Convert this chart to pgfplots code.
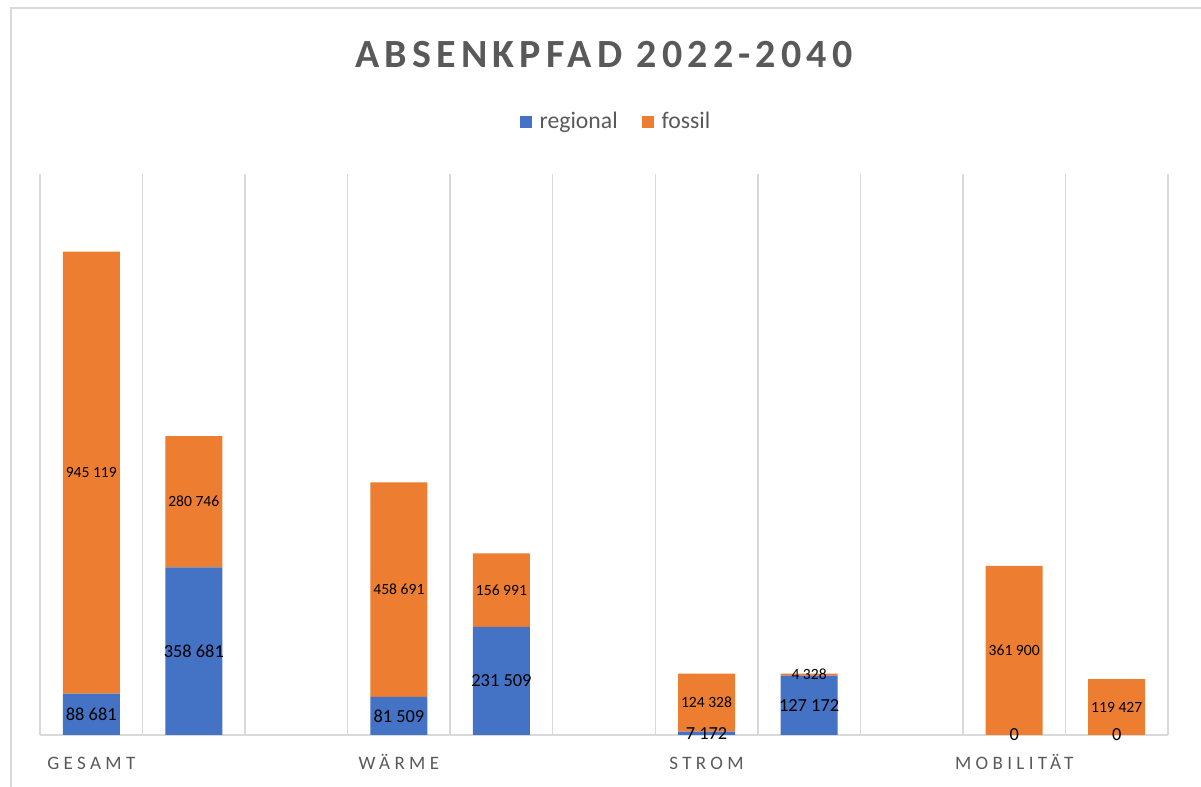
\documentclass[border=0pt]{standalone}
\usepackage{pgfplots}
\usepackage{pgfplotstable}
\pgfplotsset{compat=1.18}
\usepackage{fontspec}
\setmainfont{Carlito}
\newfontfamily\titlefont[LetterSpace=13]{Carlito}
\newfontfamily\catfont[LetterSpace=23]{Carlito}
\definecolor{cblue}{HTML}{4472C4}
\definecolor{corange}{HTML}{ED7D31}
\definecolor{ctext}{HTML}{595959}
\definecolor{cgrid}{HTML}{D9D9D9}

\pgfplotstableread{
x r f
0 88681 945119
1 358681 280746
3 81509 458691
4 231509 156991
6 7172 124328
7 127172 4328
9 0 361900
10 0 119427
}\data

\pgfplotsset{
  common/.style={
    at={(20pt,26pt)}, anchor=south west, scale only axis,
    width=564pt, height=280.5pt,
    xmin=-0.5, xmax=10.5, ymin=0, ymax=1200000,
  },
}

\begin{document}
\begin{tikzpicture}
\useasboundingbox (0pt,0pt) rectangle (600.5pt,393.5pt);
\draw[cgrid, line width=0.75pt] (5.5pt,0pt) -- (5.5pt,389.5pt) -- (600.5pt,389.5pt);
\node[font=\titlefont\bfseries\fontsize{20}{24}\selectfont, text=ctext, anchor=base] at (302pt,359.5pt) {ABSENKPFAD 2022-2040};
\begin{axis}[
  common,
  ybar stacked, bar width=28.5pt,
  axis x line*=bottom, axis y line=none,
  x axis line style={cgrid, line width=0.75pt},
  xtick={-0.5,0.5,...,10.5}, xticklabels={},
  xmajorgrids, major grid style={cgrid, line width=0.75pt},
  major tick length=0,
  extra x ticks={0,3,6,9},
  extra x tick labels={GESAMT,WÄRME,STROM,MOBILITÄT},
  extra x tick style={grid=none, major tick length=0,
    tick label style={anchor=base, yshift=-17.5pt, text=ctext,
      font=\catfont\fontsize{9.5}{11}\selectfont}},
  legend style={at={(rel axis cs:0.5115,1.093)}, anchor=center, draw=none,
    fill=none, legend columns=2, text=ctext,
    font=\fontsize{11.85}{14}\selectfont,
    /tikz/every odd column/.append style={column sep=2pt},
    /tikz/every even column/.append style={column sep=10pt}},
  legend image code/.code={\fill[#1, draw=none] (0pt,-3pt) rectangle (6pt,3pt);},
]
\addplot[fill=cblue, draw=none] table[x=x, y=r] {\data};
\addlegendentry{regional}
\addplot[fill=corange, draw=none] table[x=x, y=f] {\data};
\addlegendentry{fossil}
\end{axis}
\begin{axis}[
  common, hide axis, clip=false,
  /pgf/number format/.cd, fixed, precision=0, 1000 sep={\ }, assume math mode=true,
  /pgfplots/.cd,
  point meta=explicit,
  nodes near coords={\pgfmathprintnumber{\pgfplotspointmeta}},
  every node near coord/.append style={anchor=center, text=black, inner sep=0pt},
]
\addplot[draw=none, mark=none,
  every node near coord/.append style={font=\fontsize{9.2}{11}\selectfont}]
  table[x=x, y expr=\thisrow{r}/2, meta=r] {\data};
\addplot[draw=none, mark=none,
  every node near coord/.append style={font=\fontsize{7.8}{9}\selectfont}]
  table[x=x, y expr=\thisrow{r}+\thisrow{f}/2, meta=f] {\data};
\end{axis}
\end{tikzpicture}
\end{document}
